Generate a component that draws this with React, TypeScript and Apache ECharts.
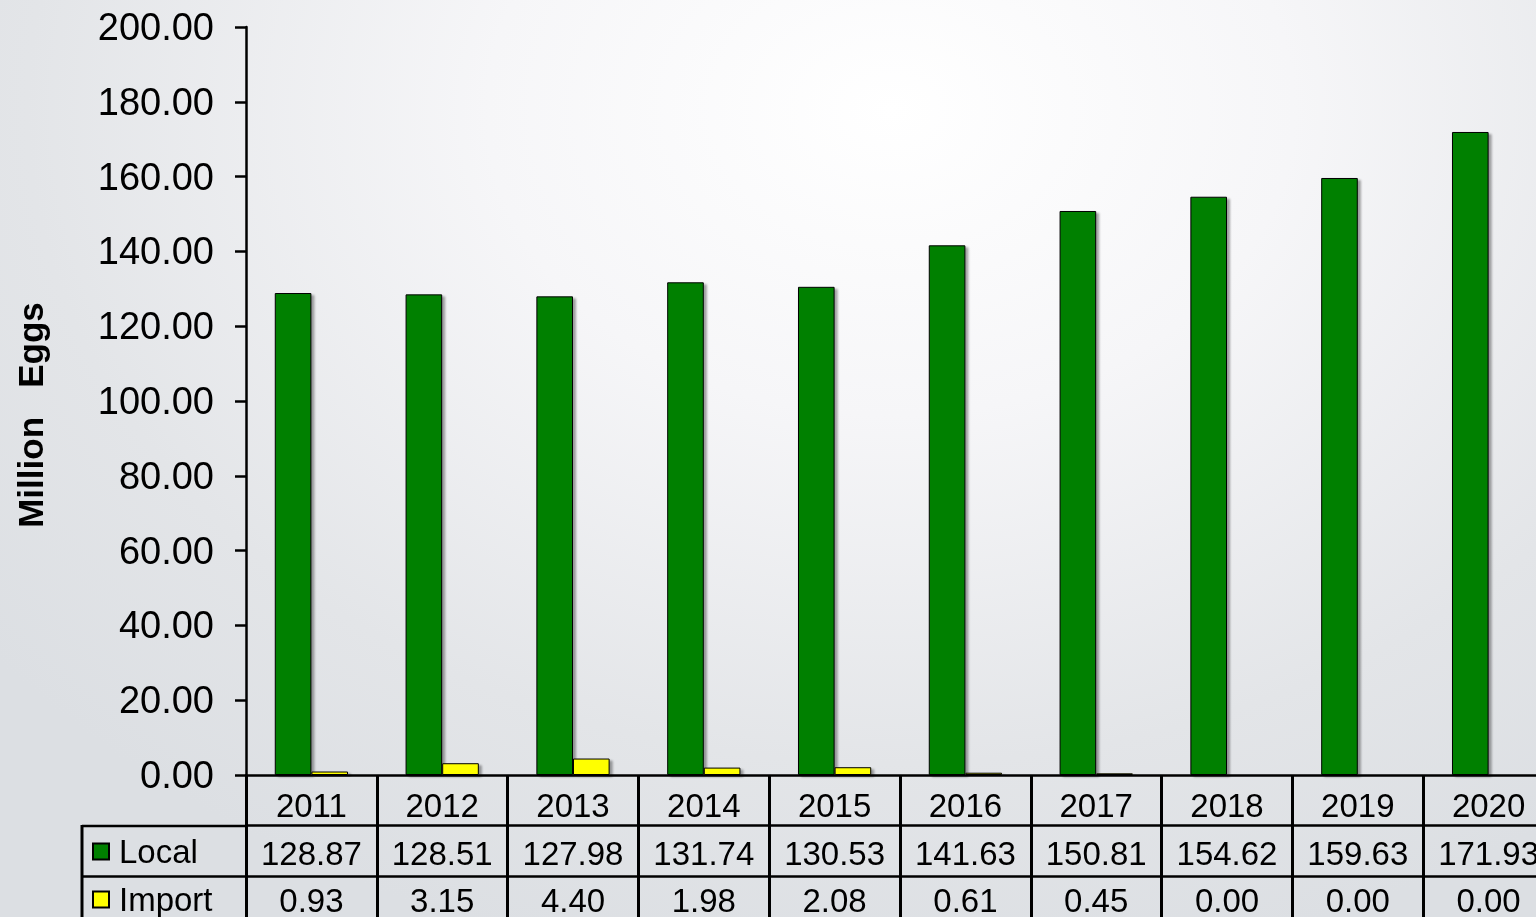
import React, { useEffect, useRef } from "react";
import * as echarts from "echarts";

const years = ["2011", "2012", "2013", "2014", "2015", "2016", "2017", "2018", "2019", "2020"];
const localValues = [128.87, 128.51, 127.98, 131.74, 130.53, 141.63, 150.81, 154.62, 159.63, 171.93];
const importValues = [0.93, 3.15, 4.4, 1.98, 2.08, 0.61, 0.45, 0.0, 0.0, 0.0];
const yTicks = { min: 0, max: 200, interval: 20 };

const FONT = "'Liberation Sans', Arial, sans-serif";

export default function App() {
  const ref = useRef<HTMLDivElement>(null);
  useEffect(() => {
    if (!ref.current) return;
    const chart = echarts.init(ref.current, null, { renderer: "svg" });
    const gridLeft = 246;
    const gridTop = 27;
    const gridBottomPx = 775;
    const rowH = 50.5;
    const lineStyle = { color: "#000", width: 2.5 };
    const barItem = (c: string) => ({
      color: c,
      borderColor: "#000",
      borderWidth: 1,
      shadowColor: "rgba(0,0,0,0.35)",
      shadowOffsetX: 3,
      shadowOffsetY: 2,
      shadowBlur: 2,
    });
    const rowMargins = [14, 11, 8];
    const rowAxis = (idx: number, vals: number[] | null) => ({
      type: "category",
      data: years,
      gridIndex: 0,
      position: "bottom",
      offset: idx * rowH,
      axisLine: { show: true, lineStyle },
      axisTick: { show: true, interval: 0, length: idx === 2 ? 60 : rowH, lineStyle: { color: "#000", width: 3 } },
      axisLabel: {
        interval: 0,
        fontSize: 33,
        fontFamily: FONT,
        color: "#000",
        margin: rowMargins[idx],
        formatter: vals ? (_v: string, i: number) => vals[i].toFixed(2) : undefined,
      },
      splitLine: { show: false },
    });
    const legendCommon = {
      orient: "vertical",
      left: 92,
      itemGap: 0,
      itemWidth: 16,
      itemHeight: 16,
      icon: "rect",
      padding: 0,
      textStyle: { fontSize: 33, fontFamily: FONT, color: "#000", padding: [0, 0, 0, 5] },
    };
    chart.setOption({
      animation: false,
      backgroundColor: "transparent",
      textStyle: { fontFamily: FONT },
      grid: {
        left: gridLeft,
        top: gridTop,
        width: 1308,
        height: gridBottomPx - gridTop,
        containLabel: false,
        outerBoundsMode: "none",
      },
      legend: [
        { ...legendCommon, top: 835, data: ["Local"] },
        { ...legendCommon, top: 883, data: ["Import"] },
      ],
      xAxis: [rowAxis(0, null), rowAxis(1, localValues), rowAxis(2, importValues)],
      yAxis: {
        type: "value",
        min: yTicks.min,
        max: yTicks.max,
        interval: yTicks.interval,
        name: "Million   Eggs",
        nameLocation: "middle",
        nameRotate: 90,
        nameGap: 198,
        nameTextStyle: { fontSize: 35, fontWeight: "bold", fontFamily: FONT, color: "#000", padding: [0, 28, 0, 0] },
        axisLine: { show: true, lineStyle },
        axisTick: { show: true, length: 11, lineStyle: { color: "#000", width: 2.5 } },
        axisLabel: { fontSize: 38, fontFamily: FONT, color: "#000", margin: 32, formatter: (v: number) => v.toFixed(2) },
        splitLine: { show: false },
      },
      series: [
        { name: "Local", type: "bar", data: localValues, barWidth: "28%", barGap: "0%", itemStyle: barItem("#008000") },
        { name: "Import", type: "bar", data: importValues, barWidth: "28%", barGap: "0%", itemStyle: barItem("#ffff00") },
      ],
      graphic: [
        { type: "line", shape: { x1: 82, y1: 826, x2: 246, y2: 826 }, style: { stroke: "#000", lineWidth: 2.5 } },
        { type: "line", shape: { x1: 82, y1: 876.5, x2: 246, y2: 876.5 }, style: { stroke: "#000", lineWidth: 2.5 } },
        { type: "line", shape: { x1: 82, y1: 825, x2: 82, y2: 930 }, style: { stroke: "#000", lineWidth: 3 } },
      ],
    });
    return () => chart.dispose();
  }, []);
  return (
    <div
      ref={ref}
      style={{
        position: "fixed",
        left: 0,
        top: 0,
        width: 1536,
        height: 917,
        background: "radial-gradient(ellipse 75% 95% at 58% 12%, #ffffff 0%, #f6f6f8 35%, #e3e5e8 75%, #dcdfe3 100%)",
      }}
    />
  );
}
